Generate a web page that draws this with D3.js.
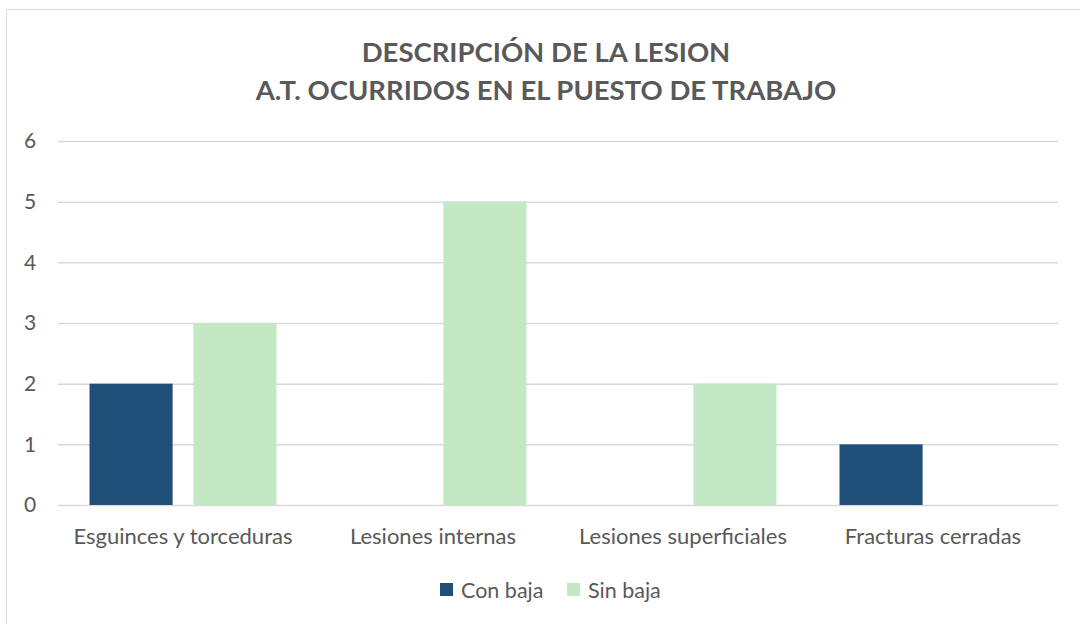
<!DOCTYPE html>
<html>
<head>
<meta charset="utf-8">
<script src="https://cdn.jsdelivr.net/npm/d3@7"></script>
<style>
  body { margin: 0; background: #fff; }
  text { font-family: Lato, "Open Sans", sans-serif; fill: #595959; }
</style>
</head>
<body>
<svg id="chart" width="1080" height="624"></svg>
<script>
let categories = ['Esguinces y torceduras', 'Lesiones internas', 'Lesiones superficiales', 'Fracturas cerradas']
let series = ['Con baja', 'Sin baja']
let conBaja = [2, 0, 0, 1]
let sinBaja = [3, 5, 2, 0]
let yTicks = [0, 1, 2, 3, 4, 5, 6]
let titleLines = ['DESCRIPCIÓN DE LA LESION', 'A.T. OCURRIDOS EN EL PUESTO DE TRABAJO']
let colors = ['#1f4e79', '#c5e8c4']

let svg = d3.select('#chart')
let margin = {top: 141, right: 22, bottom: 119, left: 58}
let width = +svg.attr('width')
let height = +svg.attr('height')

// outer border of the chart area
svg.append('rect')
    .attr('x', 6.5).attr('y', 9.5)
    .attr('width', 1100).attr('height', 700)
    .attr('fill', 'none')
    .attr('stroke', '#d9d9d9')
    .attr('stroke-width', 1)

// title
svg.append('g').selectAll('text')
    .data(titleLines)
    .enter().append('text')
    .attr('x', 546)
    .attr('y', function (d, i) { return 62 + i * 38 })
    .attr('text-anchor', 'middle')
    .style('font-size', '27.5px')
    .style('font-weight', 'bold')
    .text(function (d) { return d })

let x = d3.scaleBand()
    .domain(categories)
    .range([margin.left, width - margin.right])

let x1 = d3.scaleBand()
    .domain(series)
    .range([31.5, x.bandwidth() - 31.5])
    .paddingInner(0.2)

let y = d3.scaleLinear()
    .domain([0, 6])
    .range([height - margin.bottom, margin.top])

// gridlines
svg.append('g')
    .attr('transform', 'translate(' + margin.left + ',0)')
    .call(d3.axisLeft(y).tickValues(yTicks).tickSize(-(width - margin.left - margin.right)).tickFormat(''))
    .call(function (g) { g.select('.domain').remove() })
    .call(function (g) { g.selectAll('line').attr('stroke', '#d9d9d9').attr('stroke-width', 1.5) })

// y labels
svg.append('g').selectAll('text')
    .data(yTicks)
    .enter().append('text')
    .attr('x', 30)
    .attr('y', function (d) { return y(d) })
    .attr('dy', '0.35em')
    .attr('text-anchor', 'middle')
    .style('font-size', '21px')
    .text(function (d) { return d })

let rows = categories.map(function (c, i) {
    return {cat: c, values: [conBaja[i], sinBaja[i]]}
})

let groups = svg.append('g').selectAll('g')
    .data(rows)
    .enter().append('g')
    .attr('transform', function (d) { return 'translate(' + x(d.cat) + ',0)' })

groups.selectAll('rect')
    .data(function (d) { return d.values.map(function (v, j) { return {s: series[j], v: v, j: j} }) })
    .enter().append('rect')
    .attr('x', function (d) { return x1(d.s) })
    .attr('y', function (d) { return y(d.v) })
    .attr('width', x1.bandwidth())
    .attr('height', function (d) { return y(0) - y(d.v) })
    .attr('fill', function (d) { return colors[d.j] })

// category labels
svg.append('g').selectAll('text')
    .data(categories)
    .enter().append('text')
    .attr('x', function (d) { return x(d) + x.bandwidth() / 2 })
    .attr('y', 536)
    .attr('dy', '0.35em')
    .attr('text-anchor', 'middle')
    .style('font-size', '22px')
    .text(function (d) { return d })

// legend
let legendX = [440, 567]
let legend = svg.append('g').selectAll('g')
    .data(series)
    .enter().append('g')
    .attr('transform', function (d, i) { return 'translate(' + legendX[i] + ',583)' })
legend.append('rect')
    .attr('width', 13).attr('height', 13)
    .attr('fill', function (d, i) { return colors[i] })
legend.append('text')
    .attr('x', 21).attr('y', 7)
    .attr('dy', '0.35em')
    .style('font-size', '21.5px')
    .text(function (d) { return d })
</script>
</body>
</html>
